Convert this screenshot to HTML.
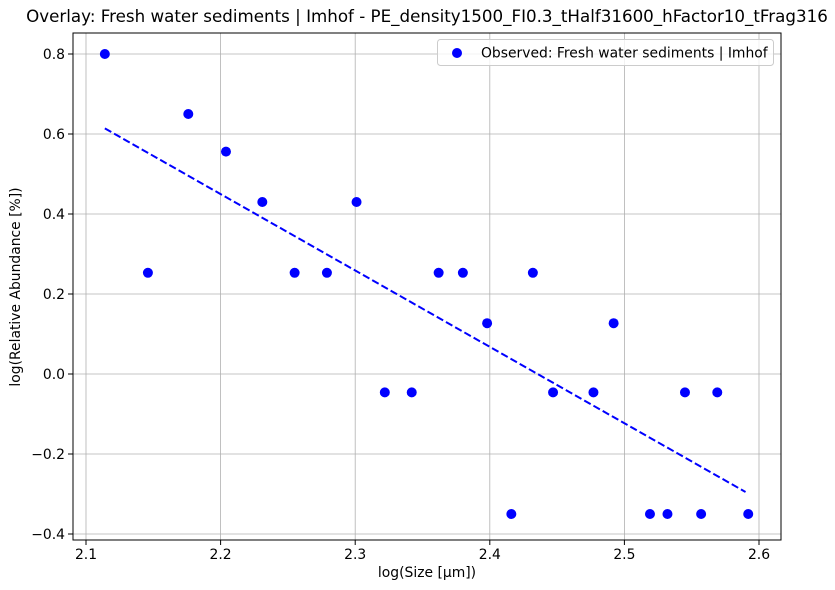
<!DOCTYPE html>
<html><head><meta charset="utf-8"><style>
html,body{margin:0;padding:0;background:#fff;}
svg{display:block;font-family:"DejaVu Sans","Liberation Sans",sans-serif;}
</style></head><body>
<svg id="chart" width="835" height="590" viewBox="0 0 835 590">
<text x="427" y="22" font-size="16.7" text-anchor="middle">Overlay: Fresh water sediments | Imhof - PE_density1500_FI0.3_tHalf31600_hFactor10_tFrag316</text>
<g id="grid"></g>
<g id="xticks"></g>
<g id="yticks"></g>
<g id="marks"></g>
<rect x="73" y="33" width="708" height="507" fill="none" stroke="#000" stroke-width="1"/>
<text x="427" y="577" font-size="13.9" text-anchor="middle">log(Size [μm])</text>
<text transform="translate(20,287) rotate(-90)" font-size="13.9" text-anchor="middle">log(Relative Abundance [%])</text>
<g>
<rect x="437.5" y="39.5" width="336" height="26" rx="3" fill="#fff" fill-opacity="0.8" stroke="#ccc"/>
<circle cx="457" cy="53" r="5" fill="#0000ff"/>
<text x="481" y="57.5" font-size="13.9">Observed: Fresh water sediments | Imhof</text>
</g>
</svg>
<script>
const obsX=[2.114,2.146,2.176,2.204,2.231,2.255,2.279,2.301,2.322,2.342,2.362,2.380,2.398,2.416,2.432,2.447,2.477,2.492,2.519,2.532,2.545,2.557,2.569,2.592];
const obsY=[0.8,0.253,0.65,0.556,0.43,0.253,0.253,0.43,-0.046,-0.046,0.253,0.253,0.127,-0.35,0.253,-0.046,-0.046,0.127,-0.35,-0.35,-0.046,-0.35,-0.046,-0.35];
const fitX=[2.114,2.590];
const fitY=[0.614,-0.295];
const xTicks=[2.1,2.2,2.3,2.4,2.5,2.6];
const yTicks=[-0.4,-0.2,0.0,0.2,0.4,0.6,0.8];
const xLabels=["2.1","2.2","2.3","2.4","2.5","2.6"];
const yLabels=["\u22120.4","\u22120.2","0.0","0.2","0.4","0.6","0.8"];
const NS="http://www.w3.org/2000/svg";
const sx=v=>86+(v-2.1)*1346;
const sy=v=>374-v*400;
function mk(tag,attrs,parent){const e=document.createElementNS(NS,tag);for(const k in attrs)e.setAttribute(k,attrs[k]);parent.appendChild(e);return e;}
const grid=document.getElementById('grid'),gx=document.getElementById('xticks'),gy=document.getElementById('yticks'),marks=document.getElementById('marks');
xTicks.forEach((t,i)=>{const x=sx(t);
const g=mk('line',{x1:x,x2:x,y1:33,y2:540,stroke:'#b0b0b0','stroke-width':0.8},grid);


const tk=mk('line',{x1:x,x2:x,y1:540,y2:545,stroke:'#000'},gx);


const tx=mk('text',{x:x,y:559,'font-size':13.9,'text-anchor':'middle'},gx);tx.textContent=xLabels[i];

});
yTicks.forEach((t,i)=>{const y=sy(t);
const g=mk('line',{x1:73,x2:781,y1:y,y2:y,stroke:'#b0b0b0','stroke-width':0.8},grid);


const tk=mk('line',{x1:68,x2:73,y1:y,y2:y,stroke:'#000'},gy);


const tx=mk('text',{x:65,y:y+5,'font-size':13.9,'text-anchor':'end'},gy);tx.textContent=yLabels[i];

});
const fl=mk('line',{x1:sx(fitX[0]),y1:sy(fitY[0]),x2:sx(fitX[1]),y2:sy(fitY[1]),stroke:'#0000ff','stroke-width':2,'stroke-dasharray':'7.4,3.2'},marks);


obsX.forEach((x,i)=>{const c=mk('circle',{cx:sx(x),cy:sy(obsY[i]),r:5,fill:'#0000ff'},marks);

});
</script>
</body></html>
